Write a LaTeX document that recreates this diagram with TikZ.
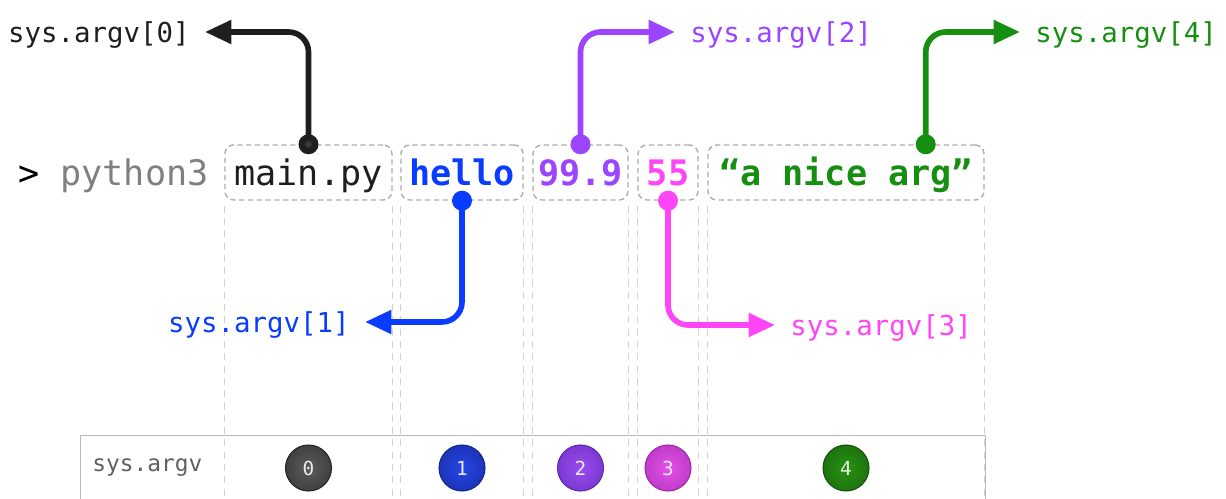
\documentclass[tikz,border=0pt]{standalone}
\usepackage{fontspec}
\setmonofont{DejaVu Sans Mono}
\usetikzlibrary{arrows.meta, positioning}

\definecolor{argblack}{HTML}{1E1E1E}
\definecolor{argblue}{HTML}{0A3CFF}
\definecolor{argpurple}{HTML}{9B45FF}
\definecolor{argpink}{HTML}{FF45F5}
\definecolor{arggreen}{HTML}{168F10}

\colorlet{chipin}{gray}
\colorlet{chipout}{black}
\pgfdeclareradialshading[chipin,chipout]{chipshade}{\pgfpoint{0bp}{0bp}}{%
  color(0bp)=(chipin); color(50bp)=(chipout)}

\begin{document}
\begin{tikzpicture}[x = 0.02cm, y = -0.02cm,
  argbox/.style = {draw = gray!65, dash pattern = on 3pt off 2pt, line width = 0.8pt,
    rounded corners = 5pt, inner sep = 0pt, minimum height = 1.1cm,
    font = \fontsize{20}{24}\selectfont\ttfamily, text height = 15pt, text depth = 0.5pt},
  argname/.style = {inner sep = 0pt, font = \fontsize{15.6}{18}\selectfont\ttfamily,
    text height = 13pt, text depth = 1pt},
  link/.style = {line width = 3.2pt, rounded corners = 0.4cm, shorten > = 0.3cm,
    -{Triangle[length = 15pt, width = 13pt]}},
  guide/.style = {draw = gray!35, line width = 0.5pt, dash pattern = on 4pt off 3pt},
  idx/.style = {circle, minimum size = 0.92cm, inner sep = 0pt, shading = chipshade,
    draw = chipout, line width = 0.6pt,
    text = white!92!black, font = \fontsize{11}{13}\selectfont\ttfamily}
  ]
  \useasboundingbox (0, 0) rectangle (1226, 499);
  \coordinate (floor) at (0, 520);
  \coordinate (row) at (0, 468);

  % the command line
  \foreach \i/\xa/\xb/\c/\w in {0/225/392/argblack/{main.py},
    1/401/523/argblue/{\bfseries hello}, 2/533/628/argpurple/{\bfseries 99.9},
    3/638/698/argpink/{\bfseries 55}, 4/708/984/arggreen/{\bfseries “a nice arg”}}{
    \pgfmathsetmacro{\bw}{(\xb - \xa)*0.02}
    \node[argbox, text = \c, minimum width = \bw cm] (a\i) at ({(\xa + \xb)/2}, 172.5) {\w};
  }
  \node[argbox, draw = none, left = 0.3cm of a0] (prompt) {> \textcolor{gray}{python3}};

  \foreach \n in {a0, a1, a2, a3, a4}{
    \draw[guide] ([yshift = -0.1cm]\n.south west) -- (\n.south west |- floor);
    \draw[guide] ([yshift = -0.1cm]\n.south east) -- (\n.south east |- floor);
  }

  % labels and arrows
  \node[argname, text = argblack, anchor = east] (lab0) at (190, 32) {sys.argv[0]};
  \node[argname, text = argblue, anchor = east] (lab1) at (350, 322) {sys.argv[1]};
  \node[argname, text = argpurple, anchor = west] (lab2) at (690, 32) {sys.argv[2]};
  \node[argname, text = argpink, anchor = west] (lab3) at (790, 325) {sys.argv[3]};
  \node[argname, text = arggreen, anchor = west] (lab4) at (1035, 32) {sys.argv[4]};

  \draw[link, argblack] (a0.north) |- (lab0.east);
  \draw[link, argblue] (a1.south) |- (lab1.east);
  \draw[link, argpurple] (a2.north) |- (lab2.west);
  \draw[link, argpink] (a3.south) |- (lab3.west);
  \draw[link, arggreen] ([xshift = -1.18cm]a4.north east) |- (lab4.west);

  \fill[argblack] (a0.north) circle[radius = 0.2cm];
  \fill[gray!45!black] (a0.north) circle[radius = 0.07cm];
  \fill[argblue] (a1.south) circle[radius = 0.2cm];
  \fill[argpurple] (a2.north) circle[radius = 0.2cm];
  \fill[argpink] (a3.south) circle[radius = 0.2cm];
  \fill[arggreen] ([xshift = -1.18cm]a4.north east) circle[radius = 0.2cm];

  % the sys.argv table
  \node[draw = gray!55, line width = 0.8pt, minimum width = 18.1cm, minimum height = 1.8cm,
  anchor = north west, inner sep = 0pt] (argv) at (80, 435) {};
  \node[anchor = west, inner sep = 0pt, text = gray!75!black,
  font = \fontsize{13}{15}\selectfont\ttfamily] (argvname) at (92, 468) {sys.argv};
  \foreach \i/\cin/\cout in {0/5C5C5C/242424, 1/2444E8/15258A, 2/9A4CF2/5E26AE,
    3/E450EA/9C28A6, 4/26940F/165210}{
    \definecolor{chipin}{HTML}{\cin}
    \definecolor{chipout}{HTML}{\cout}
    \node[idx] (n\i) at (a\i |- row) {\i};
  }
\end{tikzpicture}
\end{document}
